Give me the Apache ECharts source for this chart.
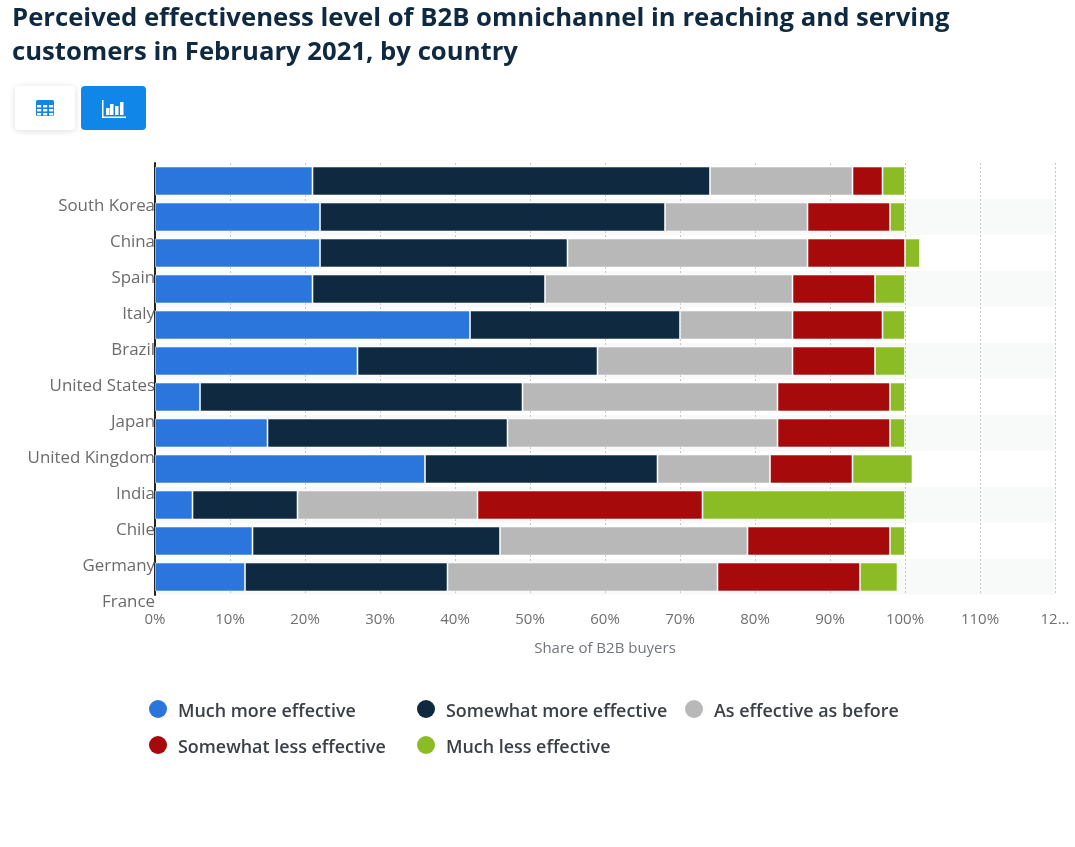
<!DOCTYPE html>
<html><head><meta charset="utf-8">
<style>html,body{margin:0;padding:0;background:#fff}#c{width:1075px;height:847px}</style>
<script src="https://cdn.jsdelivr.net/npm/echarts@6/dist/echarts.min.js"></script>
</head><body><div id="c"></div>
<script>
const categories = ["South Korea","China","Spain","Italy","Brazil","United States","Japan","United Kingdom","India","Chile","Germany","France"];
const muchMore     = [21,22,22,21,42,27,6,15,36,5,13,12];
const somewhatMore = [53,46,33,31,28,32,43,32,31,14,33,27];
const asBefore     = [19,19,32,33,15,26,34,36,15,24,33,36];
const somewhatLess = [4,11,13,11,12,11,15,15,11,30,19,19];
const muchLess     = [3,2,2,4,3,4,2,2,8,27,2,5];
const seriesNames = ["Much more effective","Somewhat more effective","As effective as before","Somewhat less effective","Much less effective"];
const colors = ["#2a76dd","#0f2a40","#b8b8b8","#a60a0a","#8bbc26"];
const values = [muchMore,somewhatMore,asBefore,somewhatLess,muchLess];
const legendPos = [[144,695],[412,695],[680,695],[144,731],[412,731]];

const chart = echarts.init(document.getElementById('c'),null,{renderer:'canvas'});
const font = '"Open Sans"';
const iconGraphic = [];
iconGraphic.push({type:'rect',shape:{x:15,y:86,width:60,height:44,r:4},style:{fill:'#fff',shadowBlur:6,shadowColor:'rgba(0,0,0,0.14)',shadowOffsetY:1}});
iconGraphic.push({type:'rect',shape:{x:81,y:86,width:65,height:44,r:4},style:{fill:'#0f86e8'}});
iconGraphic.push({type:'rect',shape:{x:36,y:100,width:18,height:16,r:1.5},style:{fill:'#0f86e8'}});
for(const y of [105,109,113]) for(const x of [37,43,49])
  iconGraphic.push({type:'rect',shape:{x:x,y:y,width:4.2,height:2.4},style:{fill:'#fff'}});
iconGraphic.push({type:'rect',shape:{x:102,y:100,width:1.5,height:18},style:{fill:'#fff'}});
iconGraphic.push({type:'rect',shape:{x:102,y:116.5,width:24,height:1.5},style:{fill:'#fff'}});
for(const b of [[106,108],[110,104],[115,106],[120,102]])
  iconGraphic.push({type:'rect',shape:{x:b[0],y:b[1],width:3.5,height:115-b[1]},style:{fill:'#fff'}});

chart.setOption({
  animation:false,
  backgroundColor:'#fff',
  title:{text:"Perceived effectiveness level of B2B omnichannel in reaching and serving\ncustomers in February 2021, by country",left:7,top:-3,
    textStyle:{fontFamily:font,fontSize:25.7,fontWeight:700,color:'#0f2a40',lineHeight:34}},
  graphic:iconGraphic,
  legend:seriesNames.map((n,i)=>({data:[n],left:legendPos[i][0],top:legendPos[i][1],icon:'circle',itemWidth:18,itemHeight:18,itemGap:0,
    selectedMode:false,itemStyle:{borderWidth:0},formatter:'{t|{name}}',
    textStyle:{rich:{t:{fontFamily:font,fontSize:17.9,fontWeight:600,color:'#3a4047',padding:[5,0,0,6]}}}})),
  grid:{left:155,top:163,width:900,height:432,containLabel:false},
  xAxis:{type:'value',min:0,max:120,interval:10,name:'Share of B2B buyers',nameLocation:'middle',nameGap:46,
    nameTextStyle:{fontFamily:font,fontSize:15,color:'#70767c'},
    position:'bottom',
    axisLine:{show:false},axisTick:{show:false},
    axisLabel:{fontFamily:font,fontSize:15,color:'#6f6f6f',margin:17,hideOverlap:false,
      formatter:v=>v===120?'12...':v+'%'},
    splitLine:{show:true,lineStyle:{type:[2,2],color:'#c8c8c8',width:1}}},
  yAxis:{type:'category',inverse:true,data:categories,
    axisLine:{show:true,lineStyle:{color:'#222',width:2}},axisTick:{show:false},
    axisLabel:{fontFamily:font,fontSize:16.9,color:'#6b6b6b',margin:0,verticalAlign:'top',lineHeight:50,interval:0},
    splitArea:{show:true,areaStyle:{color:['#ffffff','#f8f9f9']}}},
  series:seriesNames.map((n,i)=>({type:'bar',name:n,stack:'a',data:values[i],barWidth:29,
    itemStyle:{color:colors[i],borderColor:'rgba(255,255,255,0.55)',borderWidth:1}}))
});
</script></body></html>
